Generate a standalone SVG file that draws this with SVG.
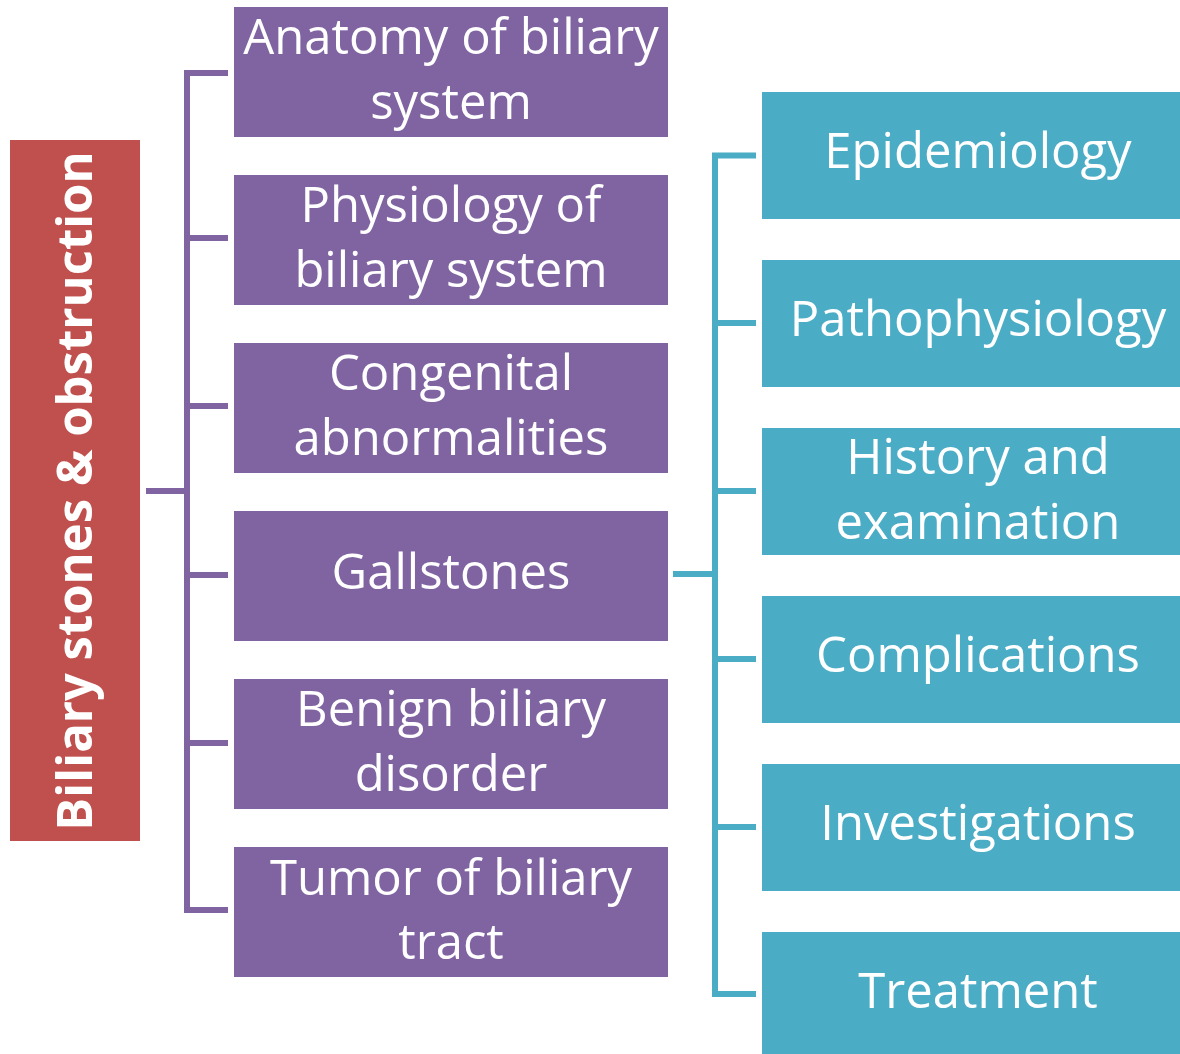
<svg xmlns="http://www.w3.org/2000/svg" width="1180" height="1054" viewBox="0 0 1180 1054">
<style>
.t{font-family:"Open Sans","Noto Sans","Liberation Sans",sans-serif;font-size:49px;fill:#fff;text-anchor:middle}
.b{font-weight:bold}
.p{fill:#8064A2}
.c{fill:#4BACC6}
.lp{fill:none;stroke:#8064A2;stroke-width:6}
.lc{fill:none;stroke:#4BACC6;stroke-width:6}
</style>
<rect width="1180" height="1054" fill="#fff"/>
<g id="connectors">
<path class="lp" d="M228,73 H187 V910 H228 M187,238 H228 M187,406 H228 M187,575 H228 M187,743 H228 M146,491 H187"/>
<path class="lc" d="M756,155.5 H715 V994 H756 M715,323 H756 M715,491 H756 M715,659 H756 M715,827 H756 M673,574 H715"/>
</g>
<g id="root">
<rect x="10" y="140" width="130" height="701" fill="#C0504D"/>
<text class="t b" transform="translate(92,491) rotate(-90)">Biliary stones &amp; obstruction</text>
</g>
<g id="anatomy"><rect class="p" x="234" y="7" width="434" height="130"/><text class="t" x="451" y="54">Anatomy of biliary</text><text class="t" x="451" y="119">system</text></g>
<g id="physiology"><rect class="p" x="234" y="175" width="434" height="130"/><text class="t" x="451" y="222">Physiology of</text><text class="t" x="451" y="287">biliary system</text></g>
<g id="congenital"><rect class="p" x="234" y="343" width="434" height="130"/><text class="t" x="451" y="390">Congenital</text><text class="t" x="451" y="455">abnormalities</text></g>
<g id="gallstones"><rect class="p" x="234" y="511" width="434" height="130"/><text class="t" x="451" y="589">Gallstones</text></g>
<g id="benign"><rect class="p" x="234" y="679" width="434" height="130"/><text class="t" x="451" y="726">Benign biliary</text><text class="t" x="451" y="791">disorder</text></g>
<g id="tumor"><rect class="p" x="234" y="847" width="434" height="130"/><text class="t" x="451" y="895">Tumor of biliary</text><text class="t" x="451" y="959">tract</text></g>
<g id="epidemiology"><rect class="c" x="762" y="92" width="418" height="127"/><text class="t" x="978" y="168">Epidemiology</text></g>
<g id="pathophysiology"><rect class="c" x="762" y="260" width="418" height="127"/><text class="t" x="978" y="336">Pathophysiology</text></g>
<g id="history"><rect class="c" x="762" y="428" width="418" height="127"/><text class="t" x="978" y="474">History and</text><text class="t" x="978" y="539">examination</text></g>
<g id="complications"><rect class="c" x="762" y="596" width="418" height="127"/><text class="t" x="978" y="672">Complications</text></g>
<g id="investigations"><rect class="c" x="762" y="764" width="418" height="127"/><text class="t" x="978" y="840">Investigations</text></g>
<g id="treatment"><rect class="c" x="762" y="932" width="418" height="122"/><text class="t" x="978" y="1008">Treatment</text></g>
</svg>
